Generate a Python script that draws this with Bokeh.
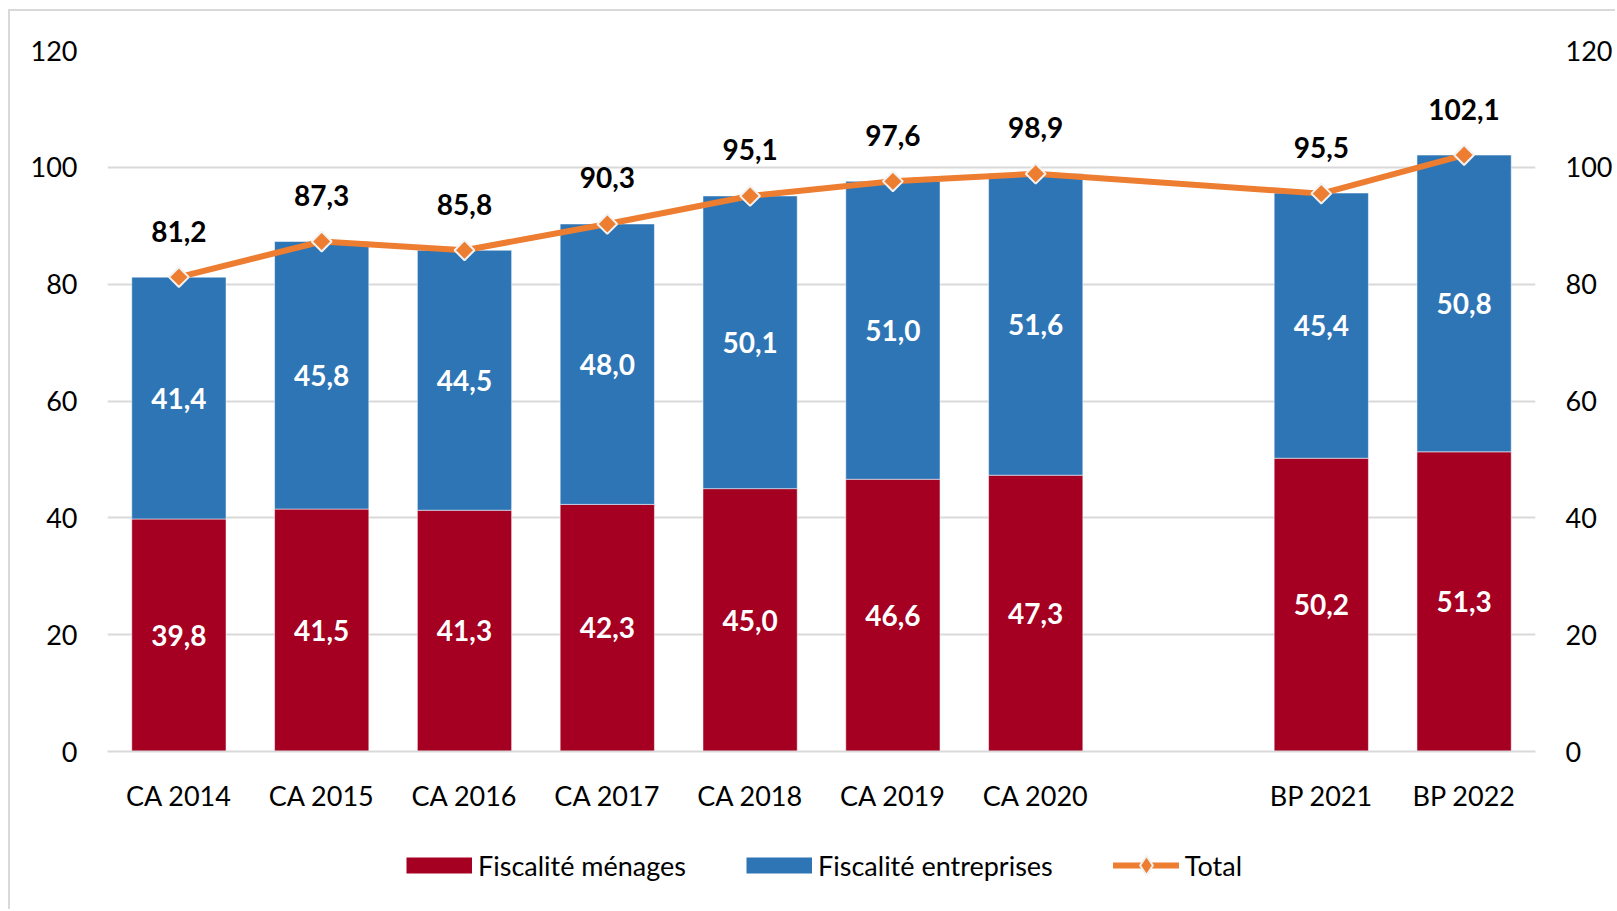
from bokeh.plotting import figure
from bokeh.layouts import column
from bokeh.models import (FactorRange, Range1d, LinearAxis, FixedTicker, ColumnDataSource,
                          Legend, LegendItem)
from bokeh.core.properties import value
from bokeh.embed import file_html
from bokeh.resources import INLINE
import math

# ---- data ----
categories = ["CA 2014", "CA 2015", "CA 2016", "CA 2017", "CA 2018", "CA 2019", "CA 2020", "BP 2021", "BP 2022"]
axis_factors = ["CA 2014", "CA 2015", "CA 2016", "CA 2017", "CA 2018", "CA 2019", "CA 2020", " ", "BP 2021", "BP 2022"]
menages = [39.8, 41.5, 41.3, 42.3, 45.0, 46.6, 47.3, 50.2, 51.3]
entreprises = [41.4, 45.8, 44.5, 48.0, 50.1, 51.0, 51.6, 45.4, 50.8]
total = [81.2, 87.3, 85.8, 90.3, 95.1, 97.6, 98.9, 95.5, 102.1]
y_ticks = [0, 20, 40, 60, 80, 100, 120]
series_names = ["Fiscalité ménages", "Fiscalité entreprises", "Total"]

RED = "#A50021"
BLUE = "#2E75B6"
ORANGE = "#ED7D31"
GRID = "#D9D9D9"
FONT = "Lato"
FS = "27px"
W = 1605


def fmt(v):
    return f"{v:.1f}".replace(".", ",")


src = ColumnDataSource(dict(
    cat=categories,
    men=menages,
    ent=entreprises,
    top_ent=[m + e for m, e in zip(menages, entreprises)],
    tot=total,
    men_mid=[m / 2 for m in menages],
    ent_mid=[m + e / 2 for m, e in zip(menages, entreprises)],
    men_lab=[fmt(v) for v in menages],
    ent_lab=[fmt(v) for v in entreprises],
    tot_lab=[fmt(v) for v in total],
))

# ---------------- main chart ----------------
p = figure(width=W, height=820, x_range=FactorRange(factors=axis_factors, range_padding=0),
           y_range=Range1d(0, 120), output_backend="svg", toolbar_location=None,
           min_border_left=97, min_border_right=78, min_border_top=39, min_border_bottom=80)
p.outline_line_color = None
p.background_fill_color = "white"
p.border_fill_color = "white"

p.vbar(x="cat", bottom=0, top="men", width=0.66, source=src,
       fill_color=RED, line_color="white", line_alpha=0.5, line_width=1)
p.vbar(x="cat", bottom="men", top="top_ent", width=0.66, source=src,
       fill_color=BLUE, line_color="white", line_alpha=0.5, line_width=1)

p.line(x="cat", y="tot", source=src, line_color=ORANGE, line_width=6, line_cap="round")
p.scatter(x="cat", y="tot", source=src, marker="square", angle=math.pi / 4, size=14,
          fill_color=ORANGE, line_color="#F2F2F2", line_width=2)

lab_style = dict(text_font=value(FONT), text_font_size="28px", text_font_style="bold",
                 text_align="center", text_baseline="middle")
p.text(x="cat", y="men_mid", text="men_lab", source=src, text_color="white", **lab_style)
p.text(x="cat", y="ent_mid", text="ent_lab", source=src, text_color="white", **lab_style)
p.text(x="cat", y="tot", text="tot_lab", source=src, text_color="black", y_offset=-46, **lab_style)

p.xaxis.axis_line_color = GRID
p.xaxis.axis_line_width = 2
p.xaxis.major_tick_line_color = None
p.xaxis.minor_tick_line_color = None
p.xaxis.major_tick_out = 0
p.xaxis.major_label_text_font = FONT
p.xaxis.major_label_text_font_size = FS
p.xaxis.major_label_text_color = "black"
p.xaxis.major_label_standoff = 27
p.xgrid.grid_line_color = None

p.yaxis.ticker = FixedTicker(ticks=y_ticks)
p.ygrid.ticker = FixedTicker(ticks=y_ticks)
p.ygrid.grid_line_color = GRID
p.ygrid.grid_line_width = 2

right = LinearAxis(ticker=FixedTicker(ticks=y_ticks))
p.add_layout(right, "right")
for ax in p.yaxis:
    ax.axis_line_color = None
    ax.major_tick_line_color = None
    ax.minor_tick_line_color = None
    ax.major_tick_out = 0
    ax.minor_tick_out = 0
    ax.major_label_text_font = FONT
    ax.major_label_text_font_size = FS
    ax.major_label_text_color = "black"
    ax.major_label_standoff = 30

# ---------------- legend strip ----------------
q = figure(width=W, height=78, x_range=Range1d(0, 1), y_range=Range1d(0, 1),
           output_backend="svg", toolbar_location=None, min_border=0)
q.axis.visible = False
q.grid.visible = False
q.outline_line_color = None
q.border_fill_color = "white"

nan = float("nan")
# legend-only proxies (a single NaN point: nothing is drawn in the strip itself)
lg_men = q.line(x=[nan], y=[nan], line_color=RED, line_width=16, line_cap="butt")
lg_ent = q.line(x=[nan], y=[nan], line_color=BLUE, line_width=16, line_cap="butt")
lg_tot_l = q.line(x=[nan], y=[nan], line_color=ORANGE, line_width=6, line_cap="round")
lg_tot_m = q.scatter(x=[nan], y=[nan], marker="diamond", fill_color=ORANGE,
                     line_color="#F2F2F2", line_width=2)

legend = Legend(items=[LegendItem(label=series_names[0], renderers=[lg_men]),
                       LegendItem(label=series_names[1], renderers=[lg_ent]),
                       LegendItem(label=series_names[2], renderers=[lg_tot_l, lg_tot_m])],
                location=(299, 20), orientation="horizontal",
                glyph_width=66, glyph_height=48, label_standoff=6, spacing=60,
                padding=0, margin=0, border_line_color=None, background_fill_alpha=0,
                label_text_font=FONT, label_text_font_size=FS, label_text_color="black")
q.add_layout(legend, "center")

layout = column(p, q, spacing=0)
layout.styles = {"margin-left": "8px", "margin-top": "9px",
                 "border-top": "2px solid #D9D9D9", "border-left": "2px solid #D9D9D9"}

open("out.html", "w").write(file_html(layout, INLINE))
